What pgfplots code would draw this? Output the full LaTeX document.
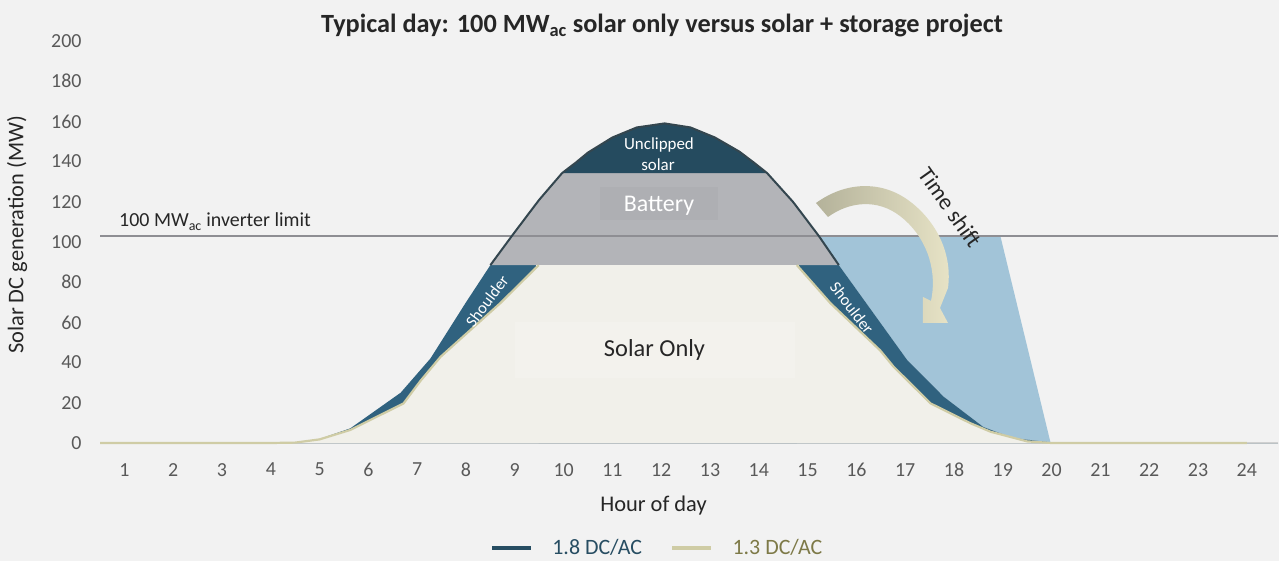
\documentclass[border=0pt]{standalone}
\usepackage{fontspec}
\setmainfont{Carlito}
\usepackage{pgfplots}
\usepackage{pgfplotstable}
\pgfplotsset{compat=1.18}
\usepgfplotslibrary{fillbetween}
\definecolor{bg}{HTML}{F2F2F2}
\definecolor{navy}{HTML}{254B5F}
\definecolor{shoulder}{HTML}{30627F}
\definecolor{batgray}{HTML}{B3B4B8}
\definecolor{batbox}{HTML}{AEAFB3}
\definecolor{cream}{HTML}{F1F0EA}
\definecolor{creambox}{HTML}{F3F2ED}
\definecolor{lblue}{HTML}{A2C4D8}
\definecolor{beige}{HTML}{CFCCA5}
\definecolor{legnavy}{HTML}{274D62}
\definecolor{olive}{HTML}{7D7947}
\definecolor{tickgray}{HTML}{595959}
\definecolor{txt}{HTML}{262626}
\definecolor{limitgray}{HTML}{8E8E93}
\definecolor{axisgray}{HTML}{D0D0D0}
\definecolor{arrowdark}{HTML}{B4B29A}
\definecolor{arrowlight}{HTML}{E8E4C7}
\definecolor{outline}{HTML}{34464F}

% 1.8 DC/AC generation profile (hour, MW)
\pgfplotstableread{
h v
0.5 0
1 0
2 0
3 0
4 0
4.5 0.3
5.0 2.0
5.63 7.3
6.66 25
7.27 42
8.0 70
8.5 88.5
8.94 103
9.25 113
9.5 121
9.97 134.3
10.25 139.5
10.5 144.5
11.0 152
11.5 157
12.07 159
12.6 157
13.1 152
13.6 145
13.9 139.5
14.17 134.3
14.7 120
14.95 112
15.23 103
15.64 88.5
17.04 41.3
17.79 23
18.6 8
19.2 2.5
19.9 0.5
20.5 0
21 0
22 0
23 0
24 0
}\dataA

% 1.3 DC/AC generation profile (hour, MW)
\pgfplotstableread{
h v
0.5 0
1 0
2 0
3 0
4 0
4.5 0.2
5.0 1.8
5.63 6.5
6.72 19.7
7.07 31
7.48 42.9
8.70 69.5
9.49 88.5
10.3 104
11.2 113
12.1 115
13.0 113
13.9 104
14.78 88.5
15.47 69.5
16.49 46
16.76 38
17.52 19.7
18.34 9.8
18.75 5.6
19.5 0.8
20 0
21 0
22 0
23 0
24 0
}\dataB

% time-shifted battery discharge boundary
\pgfplotstableread{
h v
12 103
18.95 103
19.98 0
24 0
}\dataShift

\begin{document}
\begin{tikzpicture}
\fill[bg] (-100bp,-118bp) rectangle (1179bp,443bp);
\begin{axis}[
  scale only axis, width=1178bp, height=402bp,
  xmin=0.5, xmax=24.64, ymin=0, ymax=200,
  xtick={1,...,24}, ytick={0,20,...,200},
  axis line style={draw=none}, tick style={draw=none},
  clip=false,
  fill between/on layer=main,
  /pgf/number format/assume math mode=true,
  tick label style={font=\fontsize{20}{22}\selectfont, text=tickgray},
  xticklabel style={anchor=north, inner sep=0pt, yshift=-20bp},
  yticklabel style={anchor=east, inner sep=0pt, xshift=-18.3bp},
  legend style={at={(0.331,-0.2612)}, anchor=west, draw=none, fill=none,
    inner sep=0pt, outer sep=0pt, font=\fontsize{22}{24}\selectfont,
    /tikz/every even column/.append style={column sep=28bp},
    nodes={inner sep=0pt, outer sep=0pt}},
  legend columns=2,
  legend cell align=left,
  legend image code/.code={\draw[#1, line width=4.5bp] (0bp,0bp) -- (39bp,0bp); \path (60bp,0bp);},
]
\draw[axisgray, line width=1.3bp] (axis cs:0.5,0) -- (axis cs:24.64,0);

\addplot[name path=d18, draw=none, forget plot] table[x=h, y=v] {\dataA};
\addplot[name path=d13, draw=none, forget plot] table[x=h, y=v] {\dataB};
\addplot[name path=base, draw=none, forget plot] coordinates {(0.5,0) (24.64,0)};
\addplot[name path=lowcap, draw=none, forget plot] coordinates {(0.5,88.5) (24.64,88.5)};
\addplot[name path=highcap, draw=none, forget plot] coordinates {(0.5,134.3) (24.64,134.3)};
\addplot[name path=shift, draw=none, forget plot] table[x=h, y=v] {\dataShift};

% time-shifted energy
\addplot[fill=lblue, draw=none, forget plot] fill between[of=d18 and shift, soft clip={domain=15.23:20}];
% shoulders (whole 1.8 area first)
\addplot[fill=shoulder, draw=none, forget plot] fill between[of=d18 and base];
% battery band
\addplot[fill=batgray, draw=none, forget plot] fill between[of=d18 and lowcap, soft clip={domain=8.5:15.64}];
% unclipped solar cap
\addplot[fill=navy, draw=none, forget plot] fill between[of=d18 and highcap, soft clip={domain=9.97:14.17}];
% solar only (1.3 curve, clipped by inverter band)
\addplot[fill=cream, draw=none, forget plot] fill between[of=lowcap and base, soft clip={domain=9.44:14.83}];
\addplot[fill=cream, draw=none, forget plot] fill between[of=d13 and base, soft clip={domain=0.5:9.49}];
\addplot[fill=cream, draw=none, forget plot] fill between[of=d13 and base, soft clip={domain=14.78:24}];

\addplot[limitgray, line width=1.3bp, forget plot] coordinates {(0.5,103) (24.64,103)};
\addplot[outline, line width=2bp, forget plot, restrict y to domain=88:200, unbounded coords=jump] table[x=h, y=v] {\dataA};
\addplot[beige, line width=2.2bp, forget plot, restrict y to domain=0:88.6, unbounded coords=jump] table[x=h, y=v] {\dataB};

\addlegendimage{legnavy}
\addlegendentry{\textcolor{legnavy}{1.8 DC/AC}}
\addlegendimage{beige}
\addlegendentry{\textcolor{olive}{1.3 DC/AC}}
\end{axis}

\begin{scope}[x=1bp, y=-1bp, shift={(-100bp,443bp)}]
  % labels
  \node[anchor=base, font=\bfseries\fontsize{26.4}{28}\selectfont, text=txt] at (662,33)
    {Typical day: 100 MW\textsubscript{ac} solar only versus solar + storage project};
  \node[anchor=base, font=\fontsize{22.5}{24}\selectfont, text=txt] at (653.5,511.5) {Hour of day};
  \node[anchor=base, rotate=90, font=\fontsize{22.5}{24}\selectfont, text=txt] at (23.5,235) {Solar DC generation (MW)};
  \node[anchor=base west, inner sep=0pt, font=\fontsize{20}{22}\selectfont, text=txt] at (119,227) {100 MW\textsubscript{ac} inverter limit};
  % region boxes and labels
  \fill[batbox] (600,187) rectangle (718,220);
  \fill[creambox] (515,322) rectangle (795,378);
  \node[anchor=base, font=\fontsize{24}{26}\selectfont, text=white] at (659,211.5) {Battery};
  \node[anchor=base, font=\fontsize{24.5}{26}\selectfont, text=txt] at (654.5,357) {Solar Only};
  \node[anchor=base, font=\fontsize{17}{19}\selectfont, text=white] at (659,150) {Unclipped};
  \node[anchor=base, font=\fontsize{17}{19}\selectfont, text=white] at (658,171) {solar};
  \node[rotate=53, inner sep=0pt, font=\fontsize{16.5}{18}\selectfont, text=white] at (487,301) {Shoulder};
  \node[rotate=-52, inner sep=0pt, font=\fontsize{16.5}{18}\selectfont, text=white] at (852,308) {Shoulder};
  % time-shift arrow
  \shade[left color=arrowdark, right color=arrowlight]
    (816,203) .. controls (845,182) and (880,180) .. (908,200)
    .. controls (933,218) and (953,250) .. (948,288) -- (940,308) -- (948,323) -- (923,323) -- (923,297) -- (931,301)
    .. controls (938,268) and (925,235) .. (900,216)
    .. controls (878,199) and (850,201) .. (828,217) -- cycle;
  \node[rotate=-54.7, font=\fontsize{23}{25}\selectfont, text=txt] at (950,207) {Time shift};
\end{scope}
\pgfresetboundingbox
\useasboundingbox (-100bp,-118bp) rectangle (1179bp,443bp);
\end{tikzpicture}
\end{document}
